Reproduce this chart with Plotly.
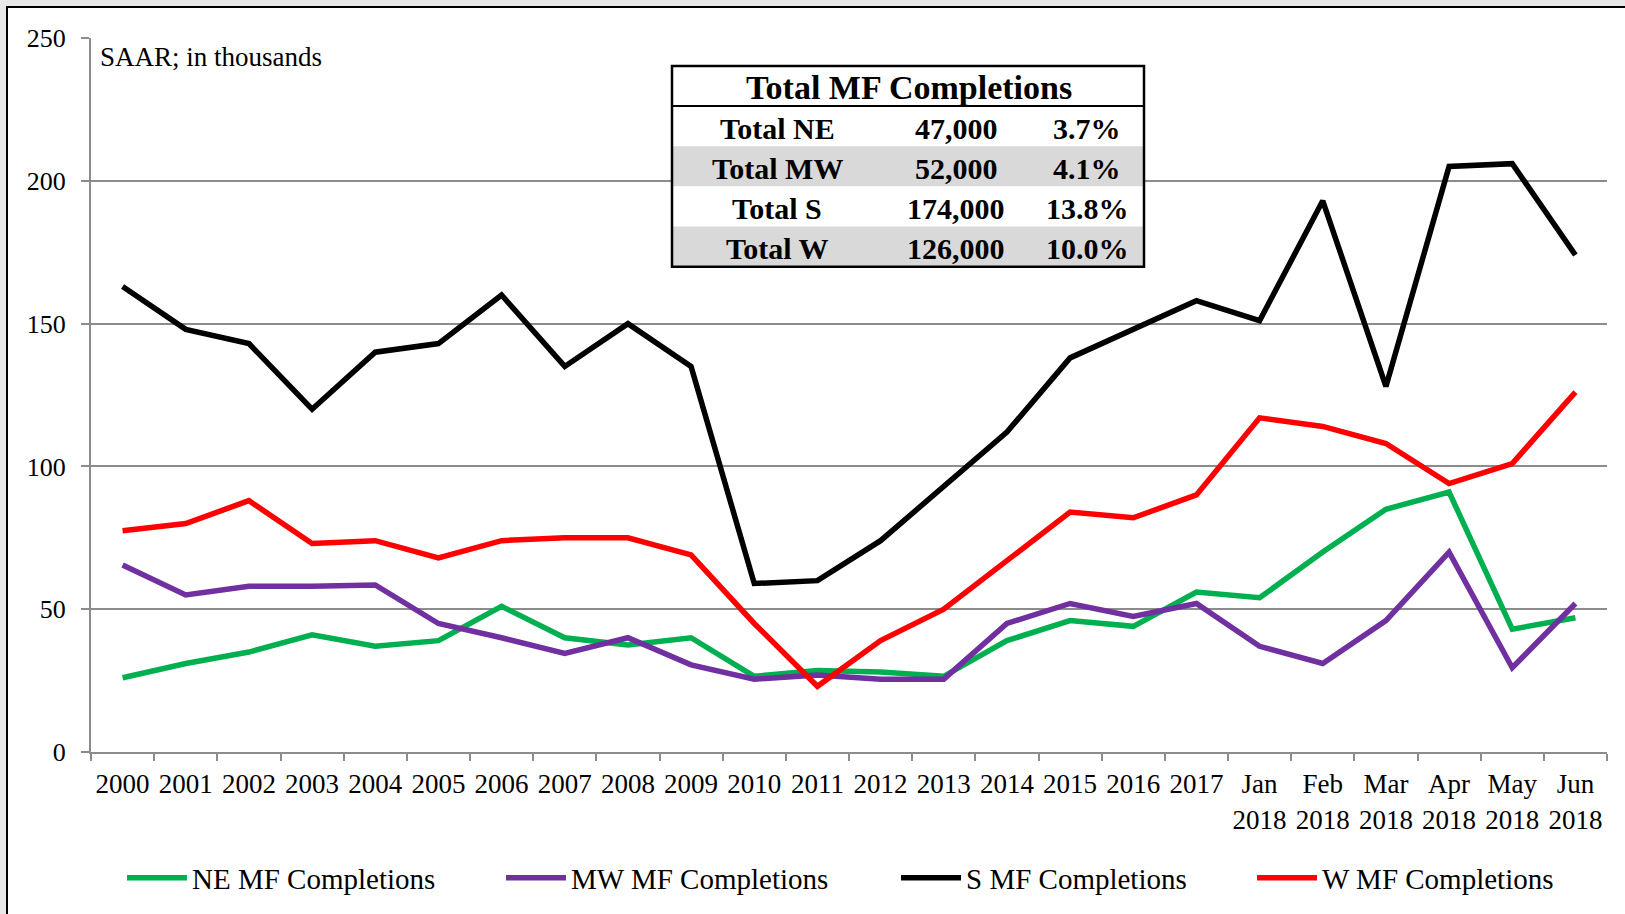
import plotly.graph_objects as go

# ---------------- data ----------------
categories = ["2000", "2001", "2002", "2003", "2004", "2005", "2006", "2007", "2008",
              "2009", "2010", "2011", "2012", "2013", "2014", "2015", "2016", "2017",
              "Jan 2018", "Feb 2018", "Mar 2018", "Apr 2018", "May 2018", "Jun 2018"]
tick_labels = [c.replace(" ", "<br>") for c in categories]

ne_completions = [26, 31, 35, 41, 37, 39, 51, 40, 37.5, 40, 26.5, 28.5, 28, 26.5, 39, 46, 44, 56,
                  54, 70, 85, 91, 43, 47]
mw_completions = [65.5, 55, 58, 58, 58.5, 45, 40, 34.5, 40, 30.5, 25.5, 27, 25.5, 25.5, 45, 52, 47.5, 52,
                  37, 31, 46, 70, 29.5, 52]
s_completions = [163, 148, 143, 120, 140, 143, 160, 135, 150, 135, 59, 60, 74, 93, 112, 138, 148, 158,
                 151, 193, 128, 205, 206, 174]
w_completions = [77.5, 80, 88, 73, 74, 68, 74, 75, 75, 69, 45, 23, 39, 50, 67, 84, 82, 90,
                 117, 114, 108, 94, 101, 126]

series_names = ["NE MF Completions", "MW MF Completions", "S MF Completions", "W MF Completions"]
series_values = [ne_completions, mw_completions, s_completions, w_completions]
series_colors = ["#00B050", "#7030A0", "#000000", "#FF0000"]

y_ticks = [0, 50, 100, 150, 200, 250]

table_title = "Total MF Completions"
table_labels = ["Total NE", "Total MW", "Total S", "Total W"]
table_units = ["47,000", "52,000", "174,000", "126,000"]
table_shares = ["3.7%", "4.1%", "13.8%", "10.0%"]

note_text = "SAAR; in thousands"

# ---------------- layout geometry ----------------
W, H = 1625, 914
ML, MR, MT, MB = 91, 18, 38, 162
PW, PH = W - ML - MR, H - MT - MB
FONT = "Liberation Serif, Times New Roman, serif"


def px(xp):
    return (xp - ML) / PW


def py(yp):
    return (H - MB - yp) / PH


fig = go.Figure()

legend_names = ["legend", "legend2", "legend3", "legend4"]
legend_text_x = [192, 571, 966, 1322]

for name, vals, color, lg in zip(series_names, series_values, series_colors, legend_names):
    fig.add_trace(go.Scatter(
        x=categories, y=vals, mode="lines", name=name,
        line=dict(color=color, width=5.5), legend=lg,
        hoverinfo="x+y+name",
    ))

legend_layouts = {}
for lg, tx in zip(legend_names, legend_text_x):
    legend_layouts[lg] = dict(
        x=px(tx - 70), y=py(878), xanchor="left", yanchor="middle",
        orientation="h", bgcolor="rgba(0,0,0,0)", borderwidth=0,
        font=dict(family=FONT, size=29, color="black"), itemwidth=60,
    )

shapes = []
# chart border / white area
shapes.append(dict(type="rect", xref="paper", yref="paper",
                   x0=px(7), x1=px(W + 20), y0=py(7), y1=py(H + 20),
                   fillcolor="white", line=dict(color="black", width=2), layer="below"))

# table
t_left, t_right, t_top, t_head = 672, 1144, 66, 106
row_h = 40.2
for i in range(4):
    y0 = t_head + i * row_h
    fill = "#D9D9D9" if i % 2 == 1 else "white"
    shapes.append(dict(type="rect", xref="paper", yref="paper",
                       x0=px(t_left), x1=px(t_right), y0=py(y0), y1=py(y0 + row_h),
                       fillcolor=fill, line=dict(width=0), layer="above"))
shapes.append(dict(type="rect", xref="paper", yref="paper",
                   x0=px(t_left), x1=px(t_right), y0=py(t_top), y1=py(t_head),
                   fillcolor="white", line=dict(width=0), layer="above"))
shapes.append(dict(type="line", xref="paper", yref="paper",
                   x0=px(t_left), x1=px(t_right), y0=py(t_head), y1=py(t_head),
                   line=dict(color="black", width=2), layer="above"))
shapes.append(dict(type="rect", xref="paper", yref="paper",
                   x0=px(t_left), x1=px(t_right), y0=py(t_top), y1=py(t_head + 4 * row_h),
                   fillcolor="rgba(0,0,0,0)", line=dict(color="black", width=2.5), layer="above"))

annotations = []
annotations.append(dict(xref="paper", yref="paper", x=px((t_left + t_right) / 2 + 1), y=py((t_top + t_head) / 2 + 2),
                        text=table_title, showarrow=False, xanchor="center", yanchor="middle",
                        font=dict(family=FONT, size=34, color="black", weight="bold")))
col_x = [777, 956, 1087]
for i, (lab, val, shr) in enumerate(zip(table_labels, table_units, table_shares)):
    yc = t_head + (i + 0.5) * row_h + 2
    for cx, txt in zip(col_x, [lab, val, shr]):
        annotations.append(dict(xref="paper", yref="paper", x=px(cx), y=py(yc),
                                text=txt, showarrow=False, xanchor="center", yanchor="middle",
                                font=dict(family=FONT, size=30, color="black", weight="bold")))

annotations.append(dict(xref="paper", yref="paper", x=px(98), y=py(57), text=note_text,
                        showarrow=False, xanchor="left", yanchor="middle",
                        font=dict(family=FONT, size=27, color="black")))

fig.update_layout(
    width=W, height=H,
    margin=dict(l=ML, r=MR, t=MT, b=MB, autoexpand=False),
    paper_bgcolor="#e9e9e9", plot_bgcolor="white",
    font=dict(family=FONT, color="black"),
    shapes=shapes, annotations=annotations,
    showlegend=True,
    **legend_layouts,
)

fig.update_xaxes(
    type="category", categoryorder="array", categoryarray=categories,
    tickvals=categories, ticktext=tick_labels,
    range=[-0.5, len(categories) - 0.5],
    showline=True, linecolor="#8c8c8c", linewidth=2,
    ticks="outside", tickson="boundaries", ticklen=7, tickcolor="#8c8c8c", tickwidth=2,
    showgrid=False, tickfont=dict(family=FONT, size=27, color="black"),
    tickangle=0, ticklabelstandoff=7, automargin=False,
)
fig.update_yaxes(
    range=[0, 250], tickvals=y_ticks,
    showline=True, linecolor="#8c8c8c", linewidth=2,
    ticks="outside", ticklen=8, tickcolor="#8c8c8c", tickwidth=2,
    showgrid=True, gridcolor="#8c8c8c", gridwidth=2, zeroline=False,
    tickfont=dict(family=FONT, size=26, color="black"),
    ticklabelstandoff=10, automargin=False,
)

fig.write_html(
    "out.html",
    config={"displayModeBar": False},
    post_script="document.body.style.margin='0';document.body.style.overflow='hidden';",
)
